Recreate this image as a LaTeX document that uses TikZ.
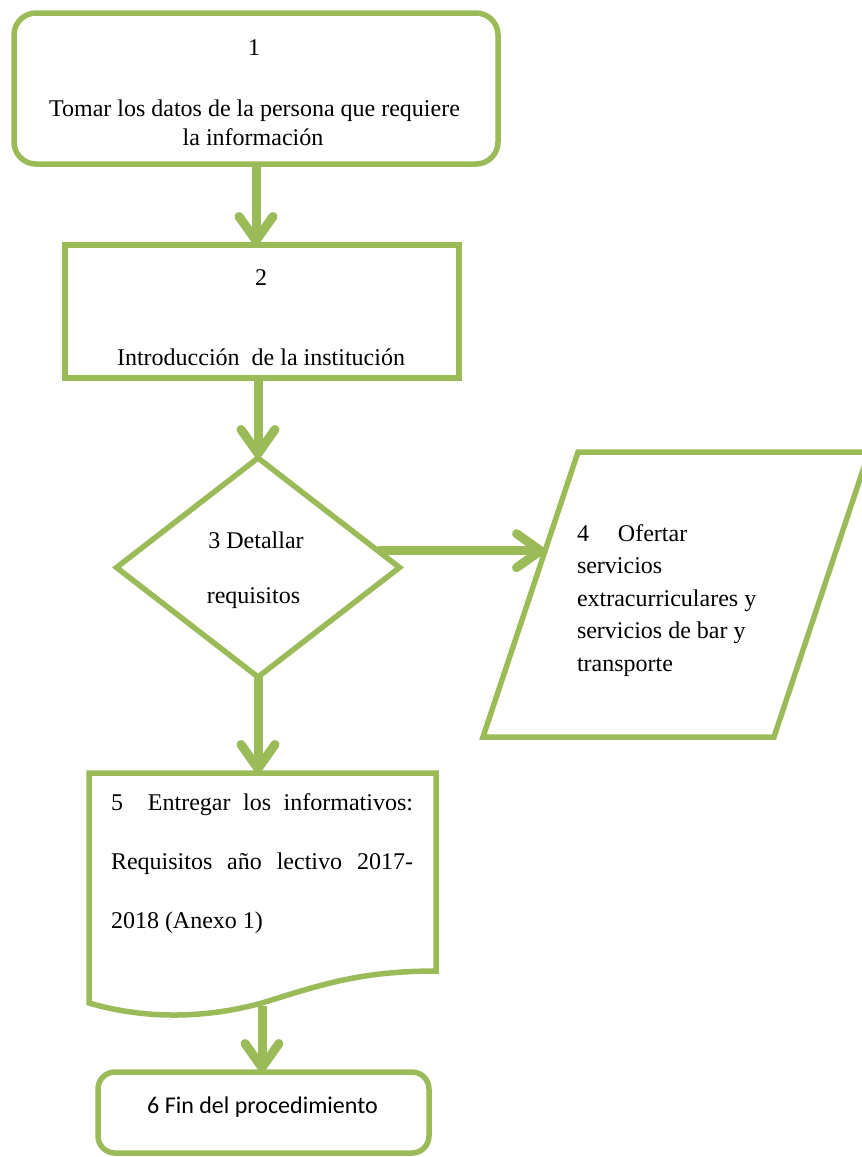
\documentclass[tikz,border=0pt]{standalone}
\usepackage{fontspec}
\setmainfont{Liberation Serif}
\newfontfamily\carlitofont{Carlito}
\usetikzlibrary{arrows.meta,shapes.geometric,calc}
\definecolor{lgreen}{HTML}{9BBB59}
\begin{document}
\begin{tikzpicture}[x=1pt,y=-1pt,
  box/.style={draw=lgreen, line width=5.5pt, inner sep=0pt, outer sep=0pt},
  txt/.style={font=\fontsize{24}{29}\selectfont, inner sep=0pt, outer sep=0pt},
  arr/.style={draw=lgreen, line width=9pt, -{Straight Barb[length=24pt,width=34pt,round]}},
]
\useasboundingbox (0,0) rectangle (862,1157);

% shapes
\node[box, rounded corners=22pt, minimum width=484pt, minimum height=151pt] (n1) at (256,88.5) {};
\node[box, minimum width=394pt, minimum height=133pt] (n2) at (262,311.5) {};
\node[box, diamond, minimum width=283pt, minimum height=219pt] (n3) at (258,567.5) {};
\draw[box] (578,452) -- (869,452) -- (774,737) -- (483,737) -- cycle;
\coordinate (n4w) at (545,551);
\draw[box] (89,773) -- (436,773) -- (436,971)
  .. controls (360,971) and (320,985) .. (262,1003)
  .. controls (200,1020) and (140,1018) .. (89,1003) -- cycle;
\coordinate (n5n) at (261,773);
\coordinate (n5s) at (262,1006);
\node[box, rounded corners=17pt, minimum width=331pt, minimum height=81pt] (n6) at (263.5,1112.5) {};

% connectors
\draw[arr] (n1.south) -- (n1.south |- n2.north);
\draw[arr] (n3.north |- n2.south) -- (n3.north);
\draw[arr] (n3.8) -- (n3.8 -| n4w);
\draw[arr] (n3.south) -- (n3.south |- n5n);
\draw[arr] (n5s) -- (n5s |- n6.north);

% texts
\node[txt, anchor=base] (t1a) at (254,55) {1};
\node[txt, anchor=base] (t1b) at (254.5,116) {Tomar los datos de la persona que requiere};
\node[txt, anchor=base] (t1c) at (253,145) {la información};
\node[txt, anchor=base] (t2a) at (261,285) {2};
\node[txt, anchor=base] (t2b) at (261,365) {Introducción\ \ de la institución};
\node[txt, anchor=base] (t3a) at (256,548) {3 Detallar};
\node[txt, anchor=base] (t3b) at (253.5,603) {requisitos};
\node[txt, anchor=base west] (t4a) at (577,541) {\makebox[41pt][l]{4}Ofertar};
\node[txt, anchor=base west] (t4b) at (577,573.5) {servicios};
\node[txt, anchor=base west] (t4c) at (577,606) {extracurriculares y};
\node[txt, anchor=base west] (t4d) at (577,638.5) {servicios de bar y};
\node[txt, anchor=base west] (t4e) at (577,671) {transporte};
\node[txt, anchor=base west] (t5a) at (111,810) {\hbox to 302pt{\makebox[37pt][l]{5}Entregar\hfill los\hfill informativos:}};
\node[txt, anchor=base west] (t5b) at (111,869) {\hbox to 302pt{Requisitos\hfill año\hfill lectivo\hfill 2017-}};
\node[txt, anchor=base west] (t5c) at (111,928) {2018 (Anexo 1)};
\node[txt, anchor=base, font=\carlitofont\fontsize{24}{29}\selectfont] (t6) at (262.5,1113) {6 Fin del procedimiento};
\end{tikzpicture}
\end{document}
